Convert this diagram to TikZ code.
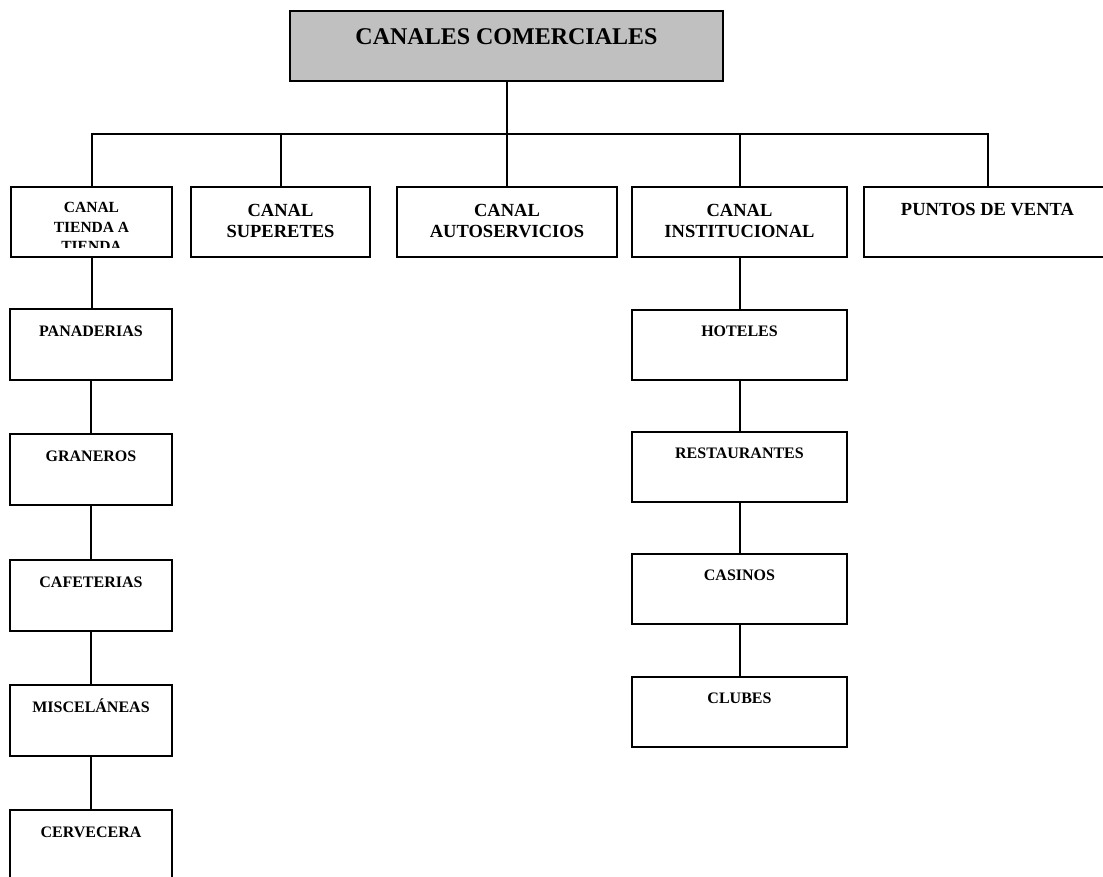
\documentclass[tikz,border=0pt]{standalone}
\usepackage{fontspec}
\setmainfont{Liberation Serif}
\definecolor{hdrgray}{RGB}{192,192,192}
\begin{document}
\begin{tikzpicture}[x=1pt,y=-1pt,
  cbox/.style={draw=black, line width=2pt, fill=white, anchor=north west,
    inner sep=0pt, outer sep=0pt},
  link/.style={draw=black, line width=2pt},
  ttltxt/.style={font=\fontsize{24}{28}\selectfont\bfseries, inner sep=0pt, anchor=base},
  maintxt/.style={font=\fontsize{18.5}{20.5}\selectfont\bfseries, align=center, inner sep=0pt, anchor=base},
  smalltxt/.style={font=\fontsize{15.5}{19.5}\selectfont\bfseries, align=center, inner sep=0pt, anchor=base},
  subtxt/.style={font=\fontsize{16}{19}\selectfont\bfseries, inner sep=0pt, anchor=base}
]
\useasboundingbox (0,0) rectangle (1103,877);

% header
\node[cbox, fill=hdrgray, line width=2.2pt, minimum width=433pt, minimum height=70pt] (top) at (290,11) {};
\node[ttltxt] (toptxt) at ([yshift=-34pt]top.north) {CANALES COMERCIALES};

% first level (base anchor of a multi-line label sits on its last line)
\node[cbox, minimum width=161pt, minimum height=70pt] (tienda) at (11,187) {};
\node[cbox, minimum width=179pt, minimum height=70pt] (super) at (191,187) {};
\node[cbox, minimum width=220pt, minimum height=70pt] (auto) at (397,187) {};
\node[cbox, minimum width=215pt, minimum height=70pt] (inst) at (632,187) {};
\node[cbox, minimum width=247pt, minimum height=70pt] (pdv) at (864,187) {};

\begin{scope}
  \clip (tienda.north west) rectangle ([yshift=9pt]tienda.south east);
  \node[smalltxt] (tiendatxt) at ([yshift=-65pt]tienda.north) {CANAL\\TIENDA A\\TIENDA};
\end{scope}
\node[maintxt] (supertxt) at ([yshift=-50.5pt]super.north) {CANAL\\SUPERETES};
\node[maintxt] (autotxt) at ([yshift=-50.5pt]auto.north) {CANAL\\AUTOSERVICIOS};
\node[maintxt] (insttxt) at ([yshift=-50.5pt]inst.north) {CANAL\\INSTITUCIONAL};
\node[maintxt] (pdvtxt) at ([yshift=-29pt]pdv.north) {PUNTOS DE VENTA};

% bus
\coordinate (bus) at (506.5,134);
\draw[link] (top.south) -- (bus);
\foreach \b in {tienda,super,auto,inst,pdv}
  \draw[link] (\b.north) -- (\b.north |- bus) -- (bus);

% tienda a tienda column
\node[cbox, minimum width=162pt, minimum height=71pt] (pan) at (10,309) {};
\node[cbox, minimum width=162pt, minimum height=71pt] (gra) at (10,434) {};
\node[cbox, minimum width=162pt, minimum height=71pt] (caf) at (10,560) {};
\node[cbox, minimum width=162pt, minimum height=71pt] (mis) at (10,685) {};
\node[cbox, minimum width=162pt, minimum height=71pt] (cer) at (10,810) {};
\node[subtxt] (pantxt) at ([yshift=-27pt]pan.north) {PANADERIAS};
\node[subtxt] (gratxt) at ([yshift=-27pt]gra.north) {GRANEROS};
\node[subtxt] (caftxt) at ([yshift=-27pt]caf.north) {CAFETERIAS};
\node[subtxt] (mistxt) at ([yshift=-27pt]mis.north) {MISCELÁNEAS};
\node[subtxt] (certxt) at ([yshift=-27pt]cer.north) {CERVECERA};
\draw[link] (tienda.south) -- (tienda.south |- pan.north);
\draw[link] (pan.south) -- (gra.north);
\draw[link] (gra.south) -- (caf.north);
\draw[link] (caf.south) -- (mis.north);
\draw[link] (mis.south) -- (cer.north);

% institucional column
\node[cbox, minimum width=215pt, minimum height=70pt] (hot) at (632,310) {};
\node[cbox, minimum width=215pt, minimum height=70pt] (res) at (632,432) {};
\node[cbox, minimum width=215pt, minimum height=70pt] (cas) at (632,554) {};
\node[cbox, minimum width=215pt, minimum height=70pt] (clu) at (632,677) {};
\node[subtxt] (hottxt) at ([yshift=-26pt]hot.north) {HOTELES};
\node[subtxt] (restxt) at ([yshift=-26pt]res.north) {RESTAURANTES};
\node[subtxt] (castxt) at ([yshift=-26pt]cas.north) {CASINOS};
\node[subtxt] (clutxt) at ([yshift=-26pt]clu.north) {CLUBES};
\draw[link] (inst.south) -- (hot.north);
\draw[link] (hot.south) -- (res.north);
\draw[link] (res.south) -- (cas.north);
\draw[link] (cas.south) -- (clu.north);
\end{tikzpicture}
\end{document}
